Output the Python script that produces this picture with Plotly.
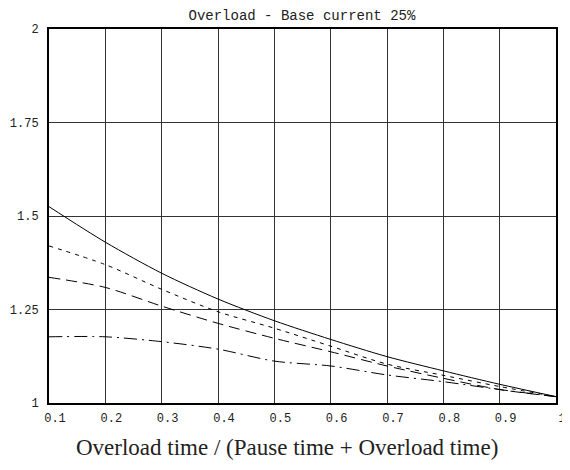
import plotly.graph_objects as go

x_vals = [0.1, 0.2, 0.3, 0.4, 0.5, 0.6, 0.7, 0.8, 0.9, 1.0]
solid_vals = [1.525, 1.430, 1.347, 1.278, 1.220, 1.170, 1.124, 1.086, 1.050, 1.017]
short_dash_vals = [1.420, 1.370, 1.304, 1.244, 1.200, 1.152, 1.104, 1.074, 1.044, 1.017]
long_dash_vals = [1.336, 1.309, 1.259, 1.213, 1.173, 1.137, 1.099, 1.066, 1.036, 1.017]
dash_dot_vals = [1.177, 1.177, 1.164, 1.144, 1.112, 1.099, 1.075, 1.057, 1.036, 1.017]

x_ticks = [0.1, 0.2, 0.3, 0.4, 0.5, 0.6, 0.7, 0.8, 0.9, 1.0]
x_tick_labels = ["0.1", "0.2", "0.3", "0.4", "0.5", "0.6", "0.7", "0.8", "0.9", "1"]
y_ticks = [1.0, 1.25, 1.5, 1.75, 2.0]
y_tick_labels = ["1", "1.25", "1.5", "1.75", "2"]

title_text = "Overload - Base current 25%"
x_title = "Overload time / (Pause time + Overload time)"

series = [
    (solid_vals, "solid"),
    (short_dash_vals, "4px,5px"),
    (long_dash_vals, "11px,6px"),
    (dash_dot_vals, "13px,5px,2px,5px"),
]

fig = go.Figure()
for vals, dash in series:
    fig.add_trace(go.Scatter(
        x=x_vals, y=vals, mode="lines",
        line=dict(color="black", width=1, dash=dash, shape="spline", smoothing=0.8),
        showlegend=False, hoverinfo="skip",
    ))

mono = "Liberation Mono, DejaVu Sans Mono, monospace"
serif = "Liberation Serif, Times New Roman, serif"

fig.add_annotation(
    text=x_title, xref="paper", yref="paper", x=0.469, y=-0.118,
    xanchor="center", yanchor="middle", showarrow=False,
    font=dict(family=serif, size=23, color="#222"),
)

fig.update_layout(
    width=562, height=462,
    margin=dict(l=41, r=14, t=21, b=67, autoexpand=False),
    paper_bgcolor="white", plot_bgcolor="white",
    title=dict(text=title_text, x=0.523, xanchor="center", y=0.985, yanchor="middle",
               font=dict(family=mono, size=14, color="#222")),
    xaxis=dict(
        range=[0.1, 1.0], tickvals=x_ticks, ticktext=x_tick_labels,
        showgrid=True, gridcolor="#333", gridwidth=1,
        showline=True, linecolor="black", linewidth=2, mirror=True,
        ticks="", zeroline=False, automargin=False,
        ticklabelshift=6, ticklabelstandoff=3, ticklabeloverflow="allow",
        tickfont=dict(family=mono, size=12, color="#222"),
    ),
    yaxis=dict(
        range=[1.0, 2.0], tickvals=y_ticks, ticktext=y_tick_labels,
        showgrid=True, gridcolor="#333", gridwidth=1,
        showline=True, linecolor="black", linewidth=2, mirror=True,
        ticks="", zeroline=False, automargin=False,
        ticklabelstandoff=6, ticklabeloverflow="allow",
        tickfont=dict(family=mono, size=12, color="#222"),
    ),
)

fig.write_html("out.html")
